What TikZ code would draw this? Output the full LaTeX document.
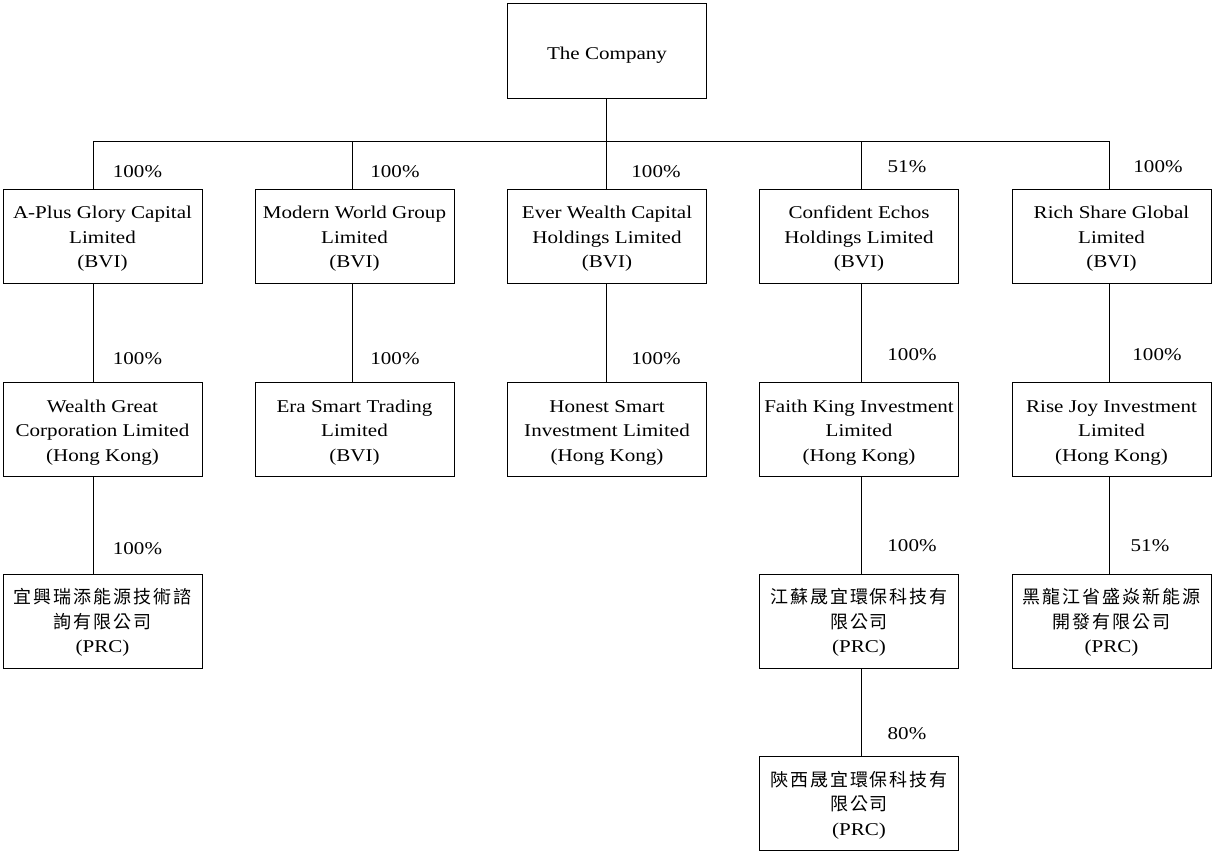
\documentclass[tikz,border=0pt]{standalone}
\usepackage{fontspec}
\setmainfont{Liberation Serif}[FakeStretch=1.17]
\newfontfamily\cjk{Noto Sans CJK TC}[LetterSpace=11]
\newcommand\tstrut{\rule{0pt}{18pt}}
\begin{document}
\begin{tikzpicture}[x=1pt,y=-1pt,
  box/.style={draw,line width=1pt,minimum width=199pt,minimum height=94pt,inner sep=0pt,align=center,
    font=\fontsize{18}{24.5}\selectfont},
  pct/.style={inner sep=0pt,font=\fontsize{18}{20}\selectfont},
  conn/.style={line width=1pt}]
\useasboundingbox (0,0) rectangle (1212,851);
% nodes
\node[box] (co) at (607,51) {\rule{0pt}{20pt}The Company};
\node[box] (a1) at (102.5,236) {\tstrut A-Plus Glory Capital\\Limited\\(BVI)};
\node[box] (b1) at (354.5,236) {\tstrut Modern World Group\\Limited\\(BVI)};
\node[box] (c1) at (607,236) {\tstrut Ever Wealth Capital\\Holdings Limited\\(BVI)};
\node[box] (d1) at (859,236) {\tstrut Confident Echos\\Holdings Limited\\(BVI)};
\node[box] (e1) at (1111.5,236) {\tstrut Rich Share Global\\Limited\\(BVI)};
\node[box] (a2) at (102.5,429.5) {\tstrut Wealth Great\\Corporation Limited\\(Hong Kong)};
\node[box] (b2) at (354.5,429.5) {\tstrut Era Smart Trading\\Limited\\(BVI)};
\node[box] (c2) at (607,429.5) {\tstrut Honest Smart\\Investment Limited\\(Hong Kong)};
\node[box] (d2) at (859,429.5) {\tstrut Faith King Investment\\Limited\\(Hong Kong)};
\node[box] (e2) at (1111.5,429.5) {\tstrut Rise Joy Investment\\Limited\\(Hong Kong)};
\node[box] (a3) at (102.5,621) {\tstrut{\cjk 宜興瑞添能源技術諮}\\{\cjk 詢有限公司}\\(PRC)};
\node[box] (d3) at (859,621) {\tstrut{\cjk 江蘇晟宜環保科技有}\\{\cjk 限公司}\\(PRC)};
\node[box] (e3) at (1111.5,621) {\tstrut{\cjk 黑龍江省盛焱新能源}\\{\cjk 開發有限公司}\\(PRC)};
\node[box] (d4) at (859,803.5) {\tstrut{\cjk 陝西晟宜環保科技有}\\{\cjk 限公司}\\(PRC)};
% junction coordinates
\coordinate (top) at (606,141);
\coordinate (ja) at (93,141);
\coordinate (jb) at (352,141);
\coordinate (jc) at (606,141);
\coordinate (jd) at (861,141);
\coordinate (je) at (1109,141);
% connectors
\draw[conn] (co.south -| top) -- (top);
\draw[conn] (ja) -- (je);
\draw[conn] (ja) -- (ja |- a1.north);
\draw[conn] (jb) -- (jb |- b1.north);
\draw[conn] (jc) -- (jc |- c1.north);
\draw[conn] (jd) -- (jd |- d1.north);
\draw[conn] (je) -- (je |- e1.north);
\draw[conn] (ja |- a1.south) -- (ja |- a2.north);
\draw[conn] (jb |- b1.south) -- (jb |- b2.north);
\draw[conn] (jc |- c1.south) -- (jc |- c2.north);
\draw[conn] (jd |- d1.south) -- (jd |- d2.north);
\draw[conn] (je |- e1.south) -- (je |- e2.north);
\draw[conn] (ja |- a2.south) -- (ja |- a3.north);
\draw[conn] (jd |- d2.south) -- (jd |- d3.north);
\draw[conn] (je |- e2.south) -- (je |- e3.north);
\draw[conn] (jd |- d3.south) -- (jd |- d4.north);
% percentage labels
\node[pct] (pa1) at (137.5,172) {100\%};
\node[pct] (pb1) at (395,172) {100\%};
\node[pct] (pc1) at (656,172) {100\%};
\node[pct] (pd1) at (907,167) {51\%};
\node[pct] (pe1) at (1158,167) {100\%};
\node[pct] (pa2) at (137.5,359) {100\%};
\node[pct] (pb2) at (395,359) {100\%};
\node[pct] (pc2) at (656,359) {100\%};
\node[pct] (pd2) at (912,355) {100\%};
\node[pct] (pe2) at (1157,355) {100\%};
\node[pct] (pa3) at (137.5,549) {100\%};
\node[pct] (pd3) at (912,546) {100\%};
\node[pct] (pe3) at (1150,546) {51\%};
\node[pct] (pd4) at (907,734) {80\%};
\end{tikzpicture}
\end{document}
